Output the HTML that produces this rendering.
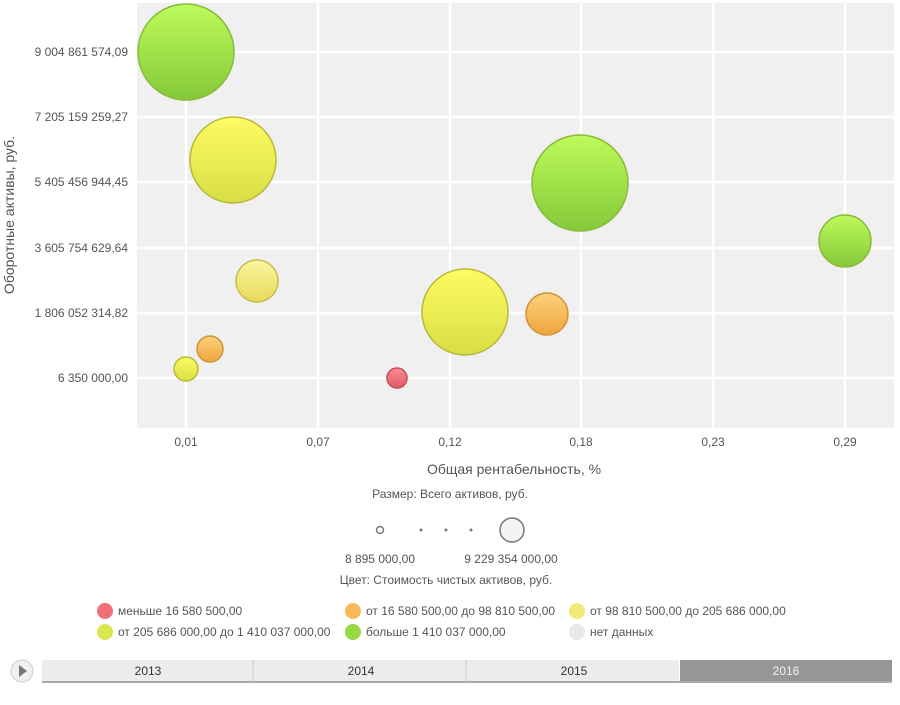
<!DOCTYPE html>
<html><head><meta charset="utf-8"><style>
body{margin:0;background:#fff;font-family:"Liberation Sans",sans-serif;}
</style></head><body>
<svg width="900" height="700" xmlns="http://www.w3.org/2000/svg" font-family="Liberation Sans, sans-serif">
<defs>
<linearGradient id="g" x1="0" y1="0" x2="0" y2="1"><stop offset="0" stop-color="#bdfb5a"/><stop offset="1" stop-color="#84c93a"/></linearGradient>
<linearGradient id="y" x1="0" y1="0" x2="0" y2="1"><stop offset="0" stop-color="#fdfc62"/><stop offset="1" stop-color="#d8de45"/></linearGradient>
<linearGradient id="p" x1="0" y1="0" x2="0" y2="1"><stop offset="0" stop-color="#fbf6a0"/><stop offset="1" stop-color="#e6da5a"/></linearGradient>
<linearGradient id="o" x1="0" y1="0" x2="0" y2="1"><stop offset="0" stop-color="#fdd07a"/><stop offset="1" stop-color="#eea63e"/></linearGradient>
<linearGradient id="r" x1="0" y1="0" x2="0" y2="1"><stop offset="0" stop-color="#fa8a92"/><stop offset="1" stop-color="#e25a66"/></linearGradient>
</defs>
<rect x="137" y="3" width="757" height="425" fill="#f0f0f0"/>
<g stroke="#fff" stroke-width="2.5">
<line x1="186" y1="3" x2="186" y2="428"/><line x1="318" y1="3" x2="318" y2="428"/><line x1="450" y1="3" x2="450" y2="428"/><line x1="581" y1="3" x2="581" y2="428"/><line x1="713" y1="3" x2="713" y2="428"/><line x1="845" y1="3" x2="845" y2="428"/>
<line x1="137" y1="52" x2="894" y2="52"/><line x1="137" y1="117" x2="894" y2="117"/><line x1="137" y1="182" x2="894" y2="182"/><line x1="137" y1="248" x2="894" y2="248"/><line x1="137" y1="313" x2="894" y2="313"/><line x1="137" y1="378" x2="894" y2="378"/>
</g>
<g stroke-width="1.5">
<circle cx="186" cy="52" r="48" fill="url(#g)" stroke="#8aba3a"/>
<circle cx="233" cy="160" r="43" fill="url(#y)" stroke="#b8b83a"/>
<circle cx="580" cy="183" r="48" fill="url(#g)" stroke="#8aba3a"/>
<circle cx="845" cy="241" r="26" fill="url(#g)" stroke="#8aba3a"/>
<circle cx="257" cy="281" r="21" fill="url(#p)" stroke="#c8bc50"/>
<circle cx="465" cy="312" r="43" fill="url(#y)" stroke="#b8b83a"/>
<circle cx="547" cy="314" r="21" fill="url(#o)" stroke="#d09438"/>
<circle cx="210" cy="349" r="13" fill="url(#o)" stroke="#d09438"/>
<circle cx="186" cy="369" r="12" fill="url(#y)" stroke="#b8b83a"/>
<circle cx="397" cy="378" r="10" fill="url(#r)" stroke="#c05058"/>
</g>
<g font-size="12" fill="#555" text-anchor="end">
<text x="128" y="56">9 004 861 574,09</text><text x="128" y="121">7 205 159 259,27</text><text x="128" y="186">5 405 456 944,45</text><text x="128" y="252">3 605 754 629,64</text><text x="128" y="317">1 806 052 314,82</text><text x="128" y="382">6 350 000,00</text>
</g>
<g font-size="12" fill="#555" text-anchor="middle">
<text x="186" y="446">0,01</text><text x="318" y="446">0,07</text><text x="450" y="446">0,12</text><text x="581" y="446">0,18</text><text x="713" y="446">0,23</text><text x="845" y="446">0,29</text>
<text x="514" y="474" font-size="14">Общая рентабельность, %</text>
<text x="450" y="498">Размер: Всего активов, руб.</text>
<text x="380" y="563">8 895 000,00</text><text x="511" y="563">9 229 354 000,00</text>
<text x="446" y="584">Цвет: Стоимость чистых активов, руб.</text>
</g>
<text transform="translate(14,215) rotate(-90)" font-size="14" fill="#555" text-anchor="middle">Оборотные активы, руб.</text>
<circle cx="380" cy="530" r="3.5" fill="#fff" stroke="#777" stroke-width="1.5"/>
<circle cx="421" cy="530" r="1.5" fill="#777"/><circle cx="446" cy="530" r="1.5" fill="#777"/><circle cx="471" cy="530" r="1.5" fill="#777"/>
<circle cx="512" cy="530" r="12" fill="#f4f4f4" stroke="#777" stroke-width="1.5"/>
<g font-size="12" fill="#555">
<circle cx="105" cy="611" r="8" fill="#f07078"/><text x="118" y="615">меньше 16 580 500,00</text>
<circle cx="353" cy="611" r="8" fill="#f8b95a"/><text x="366" y="615">от 16 580 500,00 до 98 810 500,00</text>
<circle cx="577" cy="611" r="8" fill="#f4e878"/><text x="590" y="615">от 98 810 500,00 до 205 686 000,00</text>
<circle cx="105" cy="632" r="8" fill="#dce650"/><text x="118" y="636">от 205 686 000,00 до 1 410 037 000,00</text>
<circle cx="353" cy="632" r="8" fill="#98d848"/><text x="366" y="636">больше 1 410 037 000,00</text>
<circle cx="577" cy="632" r="8" fill="#e8e8e8"/><text x="590" y="636">нет данных</text>
</g>
<circle cx="22" cy="671" r="11" fill="#f0f0f0" stroke="#ccc"/>
<polygon points="19,665 27,671 19,677" fill="#777"/>
<rect x="42" y="660" width="637" height="22" fill="#ececec"/>
<rect x="680" y="660" width="212" height="22" fill="#979694"/>
<line x1="42" y1="682" x2="892" y2="682" stroke="#aaa" stroke-width="2"/>
<line x1="253" y1="660" x2="253" y2="682" stroke="#ccc"/><line x1="466" y1="660" x2="466" y2="682" stroke="#ccc"/>
<g font-size="12" text-anchor="middle">
<text x="148" y="675" fill="#333">2013</text><text x="361" y="675" fill="#333">2014</text><text x="574" y="675" fill="#333">2015</text><text x="786" y="675" fill="#f4f4f4">2016</text>
</g>
</svg>
</body></html>
